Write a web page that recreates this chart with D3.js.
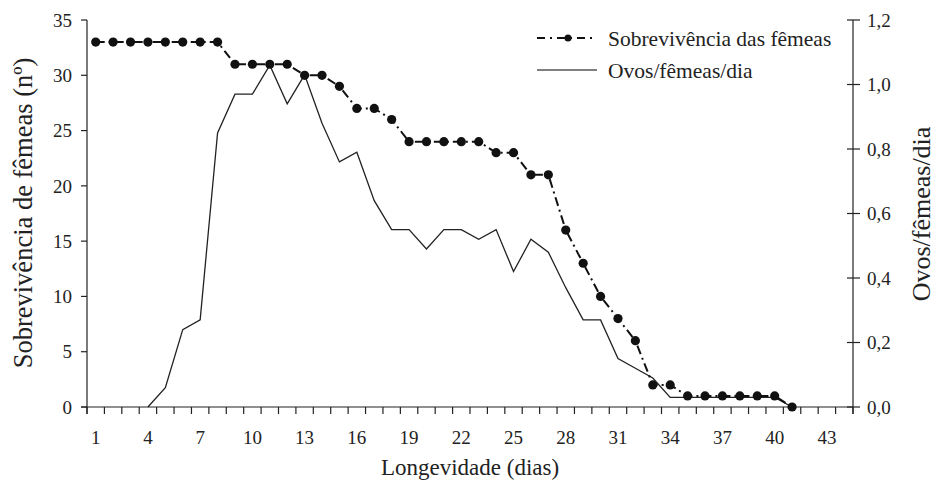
<!DOCTYPE html>
<html><head><meta charset="utf-8">
<script src="https://cdn.jsdelivr.net/npm/d3@7"></script>
<style>body{margin:0;background:#fff}svg{display:block}svg text{font-family:"Liberation Serif","Times New Roman",serif;fill:#222}</style>
</head><body>
<svg id="c" width="935" height="485"></svg>
<script>
const days = d3.range(1, 45);
const xTickLabels = [1,4,7,10,13,16,19,22,25,28,31,34,37,40,43];
const survDays = d3.range(1, 42);
const survival = [33,33,33,33,33,33,33,33,31,31,31,31,30,30,29,27,27,26,24,24,24,24,24,23,23,21,21,16,13,10,8,6,2,2,1,1,1,1,1,1,0];
const eggDays = d3.range(4, 42);
const eggs = [0,0.06,0.24,0.27,0.85,0.97,0.97,1.06,0.94,1.03,0.88,0.76,0.79,0.64,0.55,0.55,0.49,0.55,0.55,0.52,0.55,0.42,0.52,0.48,0.37,0.27,0.27,0.15,0.12,0.09,0.03,0.03,0.03,0.03,0.03,0.03,0.03,0];
const leftTicks = [0,5,10,15,20,25,30,35];
const rightTicks = [0,0.2,0.4,0.6,0.8,1.0,1.2];
const seriesNames = ["Sobrevivência das fêmeas","Ovos/fêmeas/dia"];

const svg = d3.select("#c");
const L = 87, R = 853, T = 20, B = 407;

const x = d3.scaleBand().domain(days).range([L, R]);
const xc = d => x(d) + x.bandwidth()/2;
const yL = d3.scaleLinear().domain([0,35]).range([B, T]);
const yR = d3.scaleLinear().domain([0,1.2]).range([B, T]);

// x axis
const gx = svg.append("g").attr("transform", `translate(0,${B})`);
gx.append("line").attr("x1", L-6).attr("x2", R).attr("stroke","#222").attr("stroke-width",1.2);
const bounds = days.map(d => x(d)).concat([R]);
gx.selectAll("line.t").data(bounds).join("line").attr("class","t")
  .attr("x1", d=>d).attr("x2", d=>d).attr("y1",0).attr("y2",7)
  .attr("stroke","#222").attr("stroke-width",1.2);
gx.selectAll("text").data(xTickLabels).join("text")
  .attr("x", d=>xc(d)).attr("y", 37).attr("text-anchor","middle")
  .attr("font-size", 19).text(d=>d);

// left axis
const gl = svg.append("g").attr("transform", `translate(${L},0)`);
gl.append("line").attr("y1", T).attr("y2", B+7).attr("stroke","#222").attr("stroke-width",1.2);
gl.selectAll("line.t").data(leftTicks).join("line").attr("class","t")
  .attr("x1",-6).attr("x2",0).attr("y1",d=>yL(d)).attr("y2",d=>yL(d)).attr("stroke","#222").attr("stroke-width",1.2);
gl.selectAll("text").data(leftTicks).join("text")
  .attr("x",-15).attr("y",d=>yL(d)).attr("dy","0.35em").attr("text-anchor","end")
  .attr("font-size", 19).text(d=>d);

// right axis
const gr = svg.append("g").attr("transform", `translate(${R},0)`);
gr.append("line").attr("y1", T).attr("y2", B+7).attr("stroke","#222").attr("stroke-width",1.2);
gr.selectAll("line.t").data(rightTicks).join("line").attr("class","t")
  .attr("x1",-6).attr("x2",7).attr("y1",d=>yR(d)).attr("y2",d=>yR(d)).attr("stroke","#222").attr("stroke-width",1.2);
gr.selectAll("text").data(rightTicks).join("text")
  .attr("x",14).attr("y",d=>yR(d)).attr("dy","0.35em").attr("text-anchor","start")
  .attr("font-size", 19).text(d=>d.toFixed(1).replace(".",","));

// titles
svg.append("text").attr("x", (L+R)/2).attr("y", 475).attr("text-anchor","middle")
  .attr("font-size", 23).text("Longevidade (dias)");
svg.append("text").attr("transform", `translate(32,213) rotate(-90)`).attr("text-anchor","middle")
  .attr("font-size", 26.5).text("Sobrevivência de fêmeas (nº)");
svg.append("text").attr("transform", `translate(930,214) rotate(-90)`).attr("text-anchor","middle")
  .attr("font-size", 26).text("Ovos/fêmeas/dia");

// eggs line
const eggData = eggDays.map((d,i)=>[d, eggs[i]]);
svg.append("path").datum(eggData)
  .attr("d", d3.line().x(d=>xc(d[0])).y(d=>yR(d[1])))
  .attr("fill","none").attr("stroke","#222").attr("stroke-width",1.3);

// survival line
const survData = survDays.map((d,i)=>[d, survival[i]]);
svg.append("path").datum(survData)
  .attr("d", d3.line().x(d=>xc(d[0])).y(d=>yL(d[1])))
  .attr("fill","none").attr("stroke","#111").attr("stroke-width",2)
  .attr("stroke-dasharray","9,4,2,4");
svg.selectAll("circle.s").data(survData).join("circle").attr("class","s")
  .attr("cx", d=>xc(d[0])).attr("cy", d=>yL(d[1])).attr("r",4.6).attr("fill","#111");

// legend
const lg = svg.append("g");
lg.append("line").attr("x1",537).attr("x2",597).attr("y1",38).attr("y2",38)
  .attr("stroke","#111").attr("stroke-width",2).attr("stroke-dasharray","8,5,2,5");
lg.append("circle").attr("cx",568).attr("cy",38).attr("r",3.5).attr("fill","#111");
lg.append("text").attr("x",608).attr("y",38).attr("dy","0.35em")
  .attr("font-size", 21.5).text(seriesNames[0]);
lg.append("line").attr("x1",537).attr("x2",597).attr("y1",70).attr("y2",70)
  .attr("stroke","#555").attr("stroke-width",1.3);
lg.append("text").attr("x",608).attr("y",70).attr("dy","0.35em")
  .attr("font-size", 21.5).text(seriesNames[1]);
</script>
</body></html>
